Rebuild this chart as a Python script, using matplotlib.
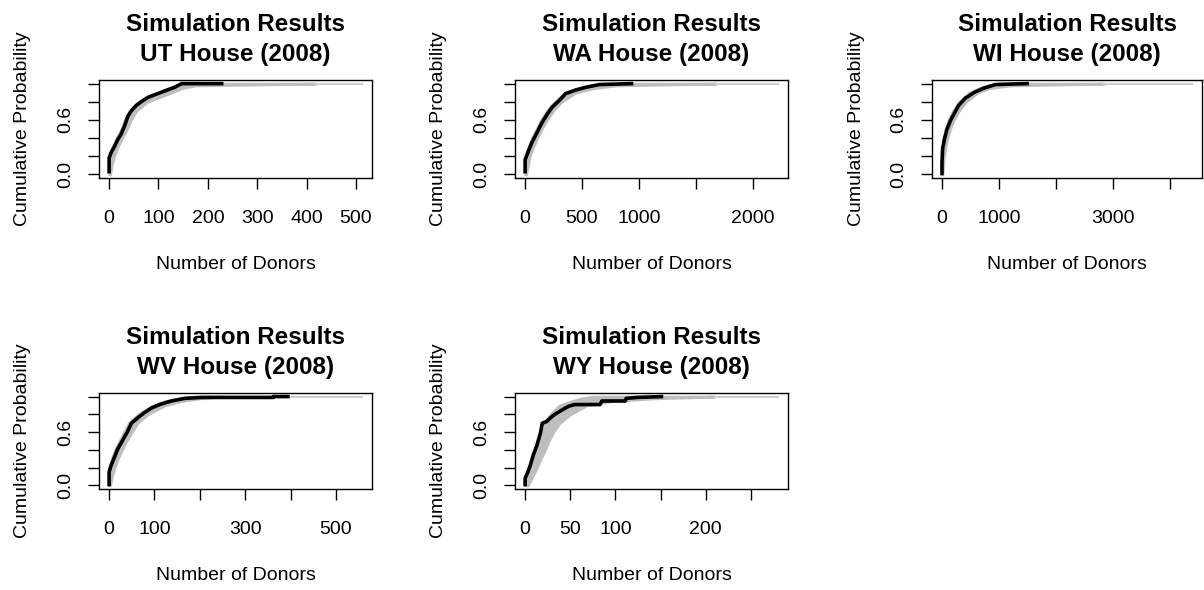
import matplotlib
matplotlib.use('Agg')
import matplotlib.pyplot as plt

plt.rcParams['font.family'] = 'Liberation Sans'

# probability levels used for the grey band of simulated ECDFs
p_levels = [0, 0.1, 0.2, 0.3, 0.4, 0.5, 0.6, 0.7, 0.8, 0.9, 0.95, 0.98, 1.0]

# UT House (2008)
ut_obs_x = [0, 0, 4, 11, 18, 24, 31, 38, 45, 55, 65, 79, 96, 113, 133, 147, 228]
ut_obs_y = [0.03, 0.18, 0.24, 0.31, 0.39, 0.44, 0.53, 0.64, 0.70, 0.76, 0.80,
            0.85, 0.885, 0.92, 0.96, 1.0, 1.0]
ut_band_lo = [0, 0, 0, 7, 15, 25, 32, 41, 60, 100, 120, 135, 145]
ut_band_hi = [2, 5, 10, 17, 26, 36, 44, 55, 77, 125, 147, 175, 418]
ut_max = 512

# WA House (2008)
wa_obs_x = [0, 0, 0, 30, 59, 104, 148, 193, 237, 297, 356, 445, 534, 653, 935]
wa_obs_y = [0.03, 0.10, 0.16, 0.26, 0.35, 0.46, 0.57, 0.66, 0.74, 0.81, 0.89,
            0.93, 0.96, 0.99, 1.0]
wa_band_lo = [0, 0, 5, 28, 60, 100, 140, 190, 260, 350, 470, 580, 700]
wa_band_hi = [8, 25, 40, 70, 105, 145, 190, 245, 320, 440, 600, 800, 1677]
wa_max = 2220

# WI House (2008)
wi_obs_x = [0, 0, 12, 47, 88, 147, 205, 293, 411, 557, 733, 938, 1496]
wi_obs_y = [0.01, 0.14, 0.29, 0.40, 0.50, 0.59, 0.66, 0.76, 0.84, 0.90, 0.95,
            0.99, 1.0]
wi_band_lo = [0, 0, 0, 8, 30, 65, 115, 195, 300, 480, 650, 800, 1000]
wi_band_hi = [8, 20, 35, 60, 95, 140, 205, 295, 420, 620, 820, 1200, 2845]
wi_max = 4390

# WV House (2008)
wv_obs_x = [0, 0, 4, 12, 19, 30, 41, 49, 63, 78, 93, 111, 137, 167, 204, 362,
            362, 394]
wv_obs_y = [0.01, 0.15, 0.22, 0.32, 0.41, 0.51, 0.61, 0.70, 0.76, 0.82, 0.87,
            0.91, 0.95, 0.98, 0.99, 0.99, 1.0, 1.0]
wv_band_lo = [0, 0, 0, 6, 13, 23, 33, 43, 64, 97, 125, 155, 190]
wv_band_hi = [2, 6, 12, 19, 28, 38, 50, 62, 85, 122, 160, 200, 250]
wv_max = 557

# WY House (2008)
wy_obs_x = [0, 0, 3, 5.5, 9, 13, 17, 19, 24, 28, 33, 41, 48, 55, 83, 85, 111,
            112, 124, 151]
wy_obs_y = [0.01, 0.08, 0.15, 0.22, 0.34, 0.45, 0.59, 0.70, 0.72, 0.76, 0.80,
            0.85, 0.89, 0.91, 0.91, 0.95, 0.95, 0.98, 0.99, 1.0]
wy_band_lo = [0, 1, 4, 8, 12, 15, 18, 21, 28, 38, 52, 63, 75]
wy_band_hi = [3, 8, 13, 17, 22, 26, 31, 38, 50, 68, 96, 144, 210]
wy_max = 280

panels = [
    ('UT', ut_obs_x, ut_obs_y, ut_band_lo, ut_band_hi, ut_max,
     [0, 100, 200, 300, 400, 500], ['0', '100', '200', '300', '400', '500']),
    ('WA', wa_obs_x, wa_obs_y, wa_band_lo, wa_band_hi, wa_max,
     [0, 500, 1000, 1500, 2000], ['0', '500', '1000', '', '2000']),
    ('WI', wi_obs_x, wi_obs_y, wi_band_lo, wi_band_hi, wi_max,
     [0, 1000, 2000, 3000, 4000], ['0', '1000', '', '3000', '']),
    ('WV', wv_obs_x, wv_obs_y, wv_band_lo, wv_band_hi, wv_max,
     [0, 100, 200, 300, 400, 500], ['0', '100', '', '300', '', '500']),
    ('WY', wy_obs_x, wy_obs_y, wy_band_lo, wy_band_hi, wy_max,
     [0, 50, 100, 150, 200, 250], ['0', '50', '100', '', '200', '']),
]

# plot boxes in pixels: left, top, right, bottom
W, H = 1204, 590
boxes = [(99, 80, 372, 178), (515, 80, 788, 178), (932, 80, 1202, 178),
         (99, 393, 372, 489), (515, 393, 788, 489)]

fig = plt.figure(figsize=(W / 100, H / 100), dpi=100)
band_col = '#bebebe'

for (state, ox, oy, lo, hi, xmax, xt, xtl), (x0, y0, x1, y1) in zip(panels, boxes):
    ax = fig.add_axes([x0 / W, 1 - y1 / H, (x1 - x0) / W, (y1 - y0) / H])

    # simulated ECDFs (grey band + long tail at 1)
    ax.fill_betweenx(p_levels, lo, hi, color=band_col, lw=2)
    ax.plot([hi[-1], xmax], [1, 1], color='#cfcfcf', lw=1.5)
    # observed ECDF
    ax.plot(ox, oy, color='black', lw=2.6)

    xmin = 0
    pad = 0.04 * (xmax - xmin)
    ax.set_xlim(xmin - pad, xmax + pad)
    ax.set_ylim(-0.04, 1.04)

    ax.set_xticks(xt)
    ax.set_xticklabels(xtl)
    ax.set_yticks([0, 0.2, 0.4, 0.6, 0.8, 1.0])
    ax.set_yticklabels(['0.0', '', '', '0.6', '', ''], rotation=90, va='center')
    ax.tick_params(direction='out', length=8, width=1, labelsize=14)
    ax.tick_params(axis='x', pad=15)
    ax.tick_params(axis='y', pad=10)

    for s in ax.spines.values():
        s.set_linewidth(1)

    ax.set_title('Simulation Results\n%s House (2008)' % state,
                 fontsize=17.5, fontweight='bold', linespacing=1.35, pad=14)
    h = y1 - y0
    ax.set_xlabel('Number of Donors', fontsize=14, va='center')
    ax.xaxis.set_label_coords(0.5, -87 / h)
    ax.set_ylabel('Cumulative Probability', fontsize=14, va='center')
    ax.yaxis.set_label_coords(-0.28, 0.5)

fig.savefig('out.png', dpi=100)
